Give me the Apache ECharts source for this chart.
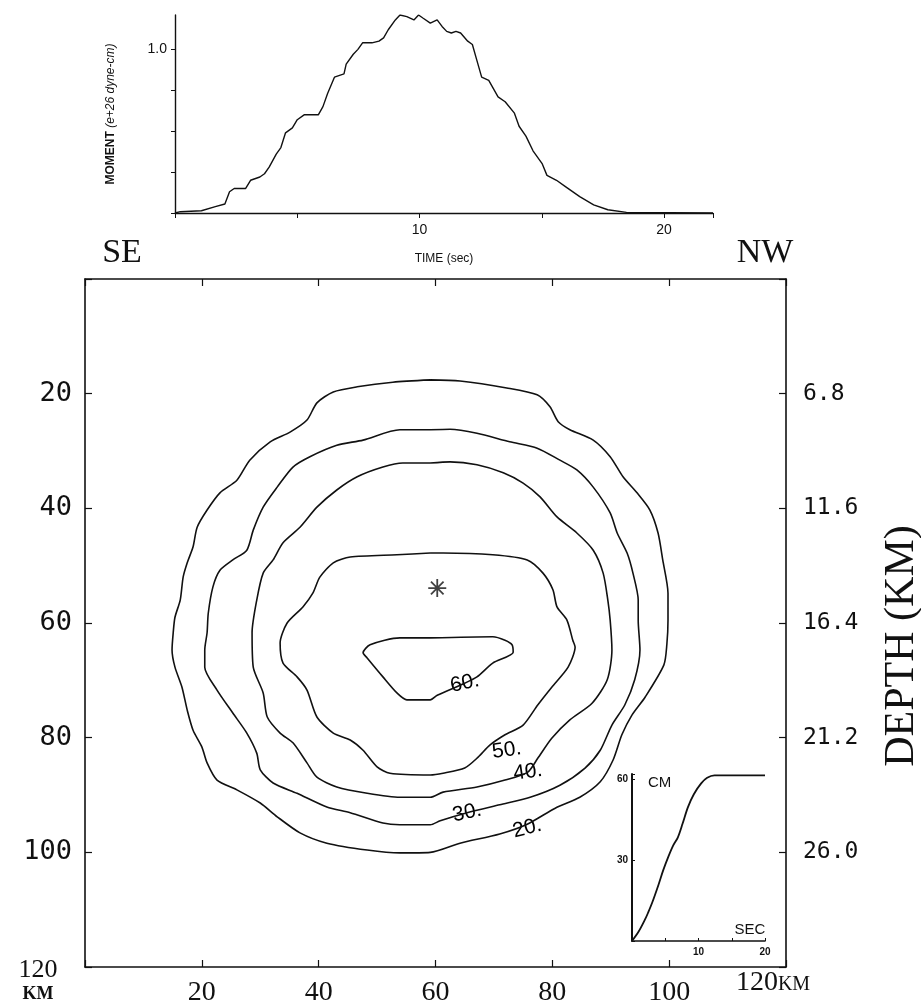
<!DOCTYPE html>
<html>
<head>
<meta charset="utf-8">
<script src="https://cdn.jsdelivr.net/npm/echarts@6/dist/echarts.min.js"></script>
<style>
  html, body { margin: 0; padding: 0; background: #fff; }
  #chart { width: 921px; height: 1007px; }
</style>
</head>
<body>
<div id="chart"></div>
<script>
// moment rate curve: [time (sec), moment (e+26 dyne-cm)]
const momentCurve = [
  [0, 0], [0.22, 0.008], [1.08, 0.014], [1.65, 0.039], [2.04, 0.055], [2.23, 0.13],
  [2.42, 0.15], [2.89, 0.15], [3.09, 0.2], [3.47, 0.22], [3.66, 0.24], [3.85, 0.28],
  [4.14, 0.36], [4.33, 0.4], [4.52, 0.49], [4.8, 0.52], [5.0, 0.57], [5.28, 0.6],
  [5.86, 0.6], [6.05, 0.65], [6.24, 0.73], [6.52, 0.83], [6.91, 0.85], [7.0, 0.91],
  [7.29, 0.97], [7.48, 1.0], [7.67, 1.04], [8.05, 1.04], [8.34, 1.05], [8.53, 1.07],
  [8.72, 1.12], [9.01, 1.18], [9.2, 1.21], [9.48, 1.2], [9.77, 1.18], [9.96, 1.21],
  [10.15, 1.19], [10.44, 1.16], [10.72, 1.18], [10.92, 1.14], [11.11, 1.11], [11.3, 1.1],
  [11.49, 1.11], [11.68, 1.1], [11.97, 1.05], [12.16, 1.03], [12.35, 0.93], [12.54, 0.83],
  [12.83, 0.81], [13.02, 0.76], [13.21, 0.71], [13.5, 0.68], [13.88, 0.61], [14.07, 0.53],
  [14.35, 0.47], [14.64, 0.38], [15.02, 0.3], [15.21, 0.23], [15.6, 0.2], [15.98, 0.16],
  [16.55, 0.1], [17.12, 0.05], [17.7, 0.02], [18.46, 0.004], [22, 0]
];

// slip contours, [along strike km, down dip km]
const contour20 = [
  [59.1, 17.6], [64.2, 17.8], [72.2, 19.0], [77.4, 20.2], [79.6, 22.3], [81.0, 24.9], [83.0, 26.3],
  [87.0, 28.1], [89.9, 31.0], [92.1, 34.5], [94.5, 37.3], [96.7, 40.3], [98.1, 44.3], [98.9, 49.0],
  [99.8, 54.8], [99.8, 59.5], [99.6, 63.8], [99.1, 67.3], [95.9, 72.9], [93.6, 76.1], [91.9, 79.5],
  [90.4, 83.9], [88.2, 87.7], [84.7, 90.4], [80.5, 92.3], [75.7, 95.1], [71.0, 96.8], [64.2, 98.4],
  [59.1, 100.0], [53.9, 100.1], [48.3, 99.6], [41.4, 98.4], [36.8, 96.6], [32.9, 93.8], [30.0, 91.4],
  [26.0, 89.1], [22.6, 87.4], [20.9, 84.4], [20.0, 81.6], [18.5, 78.7], [17.5, 75.2], [16.6, 71.2],
  [15.4, 67.7], [14.9, 64.7], [15.1, 61.7], [15.4, 59.0], [16.3, 56.0], [16.8, 52.0], [17.5, 49.5],
  [18.5, 46.7], [19.2, 43.3], [20.9, 40.3], [23.1, 37.3], [26.0, 35.1], [28.2, 31.6], [31.7, 28.4],
  [35.1, 26.7], [38.0, 24.6], [39.7, 21.6], [42.5, 19.7], [46.6, 18.8], [52.7, 18.0], [59.1, 17.6]
];
const contour30 = [
  [59.1, 26.3], [62.5, 26.2], [67.1, 26.9], [72.7, 28.4], [77.4, 29.5], [81.3, 31.6], [84.2, 33.3],
  [87.0, 36.3], [89.9, 40.8], [91.1, 44.3], [92.8, 47.8], [93.8, 51.3], [94.7, 56.0], [94.7, 59.5],
  [95.0, 64.7], [94.1, 69.9], [92.4, 74.3], [90.2, 77.8], [88.2, 82.2], [85.6, 85.3], [81.3, 88.3],
  [76.2, 90.4], [71.0, 91.7], [65.4, 93.1], [60.8, 94.5], [59.1, 95.2], [53.9, 95.2], [51.0, 94.9],
  [45.4, 93.1], [41.4, 92.1], [36.3, 89.7], [32.2, 87.9], [30.0, 85.6], [29.4, 82.7], [27.7, 79.2],
  [25.3, 75.7], [22.6, 71.7], [20.5, 67.7], [20.5, 64.7], [20.9, 61.7], [21.1, 58.3], [21.9, 53.7],
  [23.1, 50.8], [25.3, 49.0], [27.7, 47.3], [28.8, 43.8], [30.5, 39.8], [32.9, 36.3], [35.6, 32.8],
  [38.5, 31.0], [43.1, 29.0], [47.6, 28.1], [53.9, 26.3], [59.1, 26.3]
];
const contour40 = [
  [59.1, 32.1], [62.5, 31.9], [67.1, 32.4], [71.6, 33.8], [75.0, 35.6], [77.9, 38.0], [80.8, 41.5],
  [84.2, 44.3], [87.0, 47.3], [88.7, 51.3], [89.5, 56.0], [89.9, 59.5], [90.2, 64.7], [89.4, 69.9],
  [86.8, 74.0], [83.0, 76.9], [79.9, 80.1], [77.5, 83.6], [75.8, 86.0], [71.9, 87.4], [67.1, 88.6],
  [61.3, 89.5], [59.1, 90.4], [53.9, 90.4], [48.3, 89.7], [43.1, 88.6], [39.7, 86.9], [38.0, 84.4],
  [35.6, 80.9], [33.4, 79.2], [31.2, 76.4], [30.5, 72.2], [28.8, 67.7], [28.6, 61.7], [29.4, 56.0],
  [30.5, 51.3], [32.2, 49.0], [33.9, 46.0], [36.8, 43.3], [39.7, 39.8], [43.1, 36.8], [46.6, 34.5],
  [51.0, 32.8], [54.4, 32.1], [59.1, 32.1]
];
const contour50 = [
  [59.1, 47.8], [61.3, 47.8], [69.8, 48.1], [75.7, 49.0], [78.4, 51.3], [80.1, 54.2], [80.8, 57.2],
  [82.5, 59.5], [83.5, 63.0], [83.9, 64.2], [82.7, 67.7], [79.9, 71.2], [77.5, 74.3], [75.0, 77.8],
  [71.9, 79.5], [69.3, 81.3], [67.3, 83.4], [65.0, 85.3], [61.3, 86.2], [59.1, 86.5], [52.2, 86.2],
  [50.0, 85.1], [47.6, 82.2], [45.4, 80.4], [42.5, 79.2], [39.7, 76.4], [38.0, 71.7], [36.3, 69.4],
  [33.9, 67.0], [33.4, 63.5], [34.6, 60.0], [37.3, 57.2], [39.0, 54.8], [40.2, 52.0], [42.5, 49.5],
  [45.4, 48.5], [53.4, 48.1], [59.1, 47.8]
];
const contour60 = [
  [59.1, 62.6], [69.8, 62.4], [71.9, 63.0], [73.1, 63.8], [73.3, 65.1], [69.8, 67.0], [67.1, 69.4],
  [65.0, 70.5], [60.3, 72.6], [59.1, 73.4], [55.1, 73.4], [53.4, 72.2], [51.0, 69.4], [48.3, 66.1],
  [47.6, 65.2], [48.8, 63.8], [53.9, 62.6], [59.1, 62.6]
];

const contourLabelText = ['60.', '50.', '40.', '30.', '20.'];
const contourLabelAt = [[65.0, 70.5], [72.2, 82.2], [75.8, 86.0], [65.4, 93.1], [75.7, 95.8]];
const hypocenter = [60.3, 53.9];

// axis tick labels
const distTicks = [20, 40, 60, 80, 100];
const depthLabels = ['6.8', '11.6', '16.4', '21.2', '26.0'];

// slip time function at hypocenter: [sec, cm]
const slipCurve = [
  [0, 0], [1, 3.5], [2, 8.2], [2.4, 10.4], [3, 14], [4, 21], [4.7, 26.3], [5.5, 31.5],
  [6.2, 35.5], [6.9, 38.5], [7.6, 43.5], [8.4, 49.6], [9.3, 54.5], [10.4, 58.5], [11.3, 60.6],
  [12.4, 61.5], [20, 61.5]
];

const labelTilt = [12, 8, 8, 12, 14];
const INK = '#111';

const chart = echarts.init(document.getElementById('chart'));

const contourSeries = (data) => ({
  type: 'line',
  xAxisIndex: 0,
  yAxisIndex: 0,
  data,
  symbol: 'none',
  smooth: 0.25,
  silent: true,
  lineStyle: { color: INK, width: 1.6 },
});

const starPath =
  'path://M-1,-10L1,-10L1,10L-1,10Z M-10,-1L10,-1L10,1L-10,1Z ' +
  'M-6.3,-7.7L7.7,6.3L6.3,7.7L-7.7,-6.3Z M-7.7,6.3L6.3,-7.7L7.7,-6.3L-6.3,7.7Z';

const serif = '"Liberation Serif", "DejaVu Serif", serif';
const mono = '"DejaVu Sans Mono", "Liberation Mono", monospace';
const sans = '"Liberation Sans", Arial, sans-serif';

const textEl = (text, x, y, font, extra) => ({
  type: 'text',
  x,
  y,
  silent: true,
  ...extra,
  style: { text, fill: INK, font, align: 'center', verticalAlign: 'middle', ...(extra && extra.style) },
});

const boxLine = { show: true, onZero: false, lineStyle: { color: INK, width: 1.6 } };
const boxTick = { show: true, inside: true, length: 7, lineStyle: { color: INK, width: 1.2 } };

chart.setOption({
  animation: false,
  backgroundColor: '#fff',
  grid: [
    { left: 85, top: 279, width: 701, height: 688 },
    { left: 175, top: 15, width: 538, height: 198 },
    { left: 632, top: 774, width: 133, height: 167 },
  ],
  xAxis: [
    {
      gridIndex: 0, type: 'value', min: 0, max: 120, interval: 20, position: 'bottom',
      axisLine: boxLine,
      axisTick: boxTick,
      axisLabel: {
        color: INK, fontFamily: serif, fontSize: 28, margin: 12,
        formatter: (v) => (distTicks.includes(v) ? String(v) : ''),
      },
      splitLine: { show: false },
    },
    {
      gridIndex: 0, type: 'value', min: 0, max: 120, interval: 20, position: 'top',
      axisLine: boxLine,
      axisTick: boxTick,
      axisLabel: { show: false },
      splitLine: { show: false },
    },
    {
      gridIndex: 1, type: 'value', min: 0, max: 22, interval: 5,
      axisLine: { show: true, onZero: false, lineStyle: { color: INK, width: 1.4 } },
      axisTick: { show: true, length: 5, lineStyle: { color: INK } },
      axisLabel: {
        color: INK, fontFamily: sans, fontSize: 14, margin: 10,
        formatter: (v) => (v === 10 || v === 20 ? String(v) : ''),
      },
      splitLine: { show: false },
      name: 'TIME (sec)',
      nameLocation: 'middle',
      nameGap: 40,
      nameTextStyle: { color: INK, fontFamily: sans, fontSize: 12 },
    },
    {
      gridIndex: 2, type: 'value', min: 0, max: 20, interval: 5,
      axisLine: { show: true, onZero: false, lineStyle: { color: INK, width: 1.6 } },
      axisTick: { show: true, inside: true, length: 3, lineStyle: { color: INK } },
      axisLabel: {
        color: INK, fontFamily: sans, fontSize: 10, fontWeight: 'bold', margin: 6,
        formatter: (v) => (v === 10 || v === 20 ? String(v) : ''),
      },
      splitLine: { show: false },
    },
  ],
  yAxis: [
    {
      gridIndex: 0, type: 'value', min: 0, max: 120, interval: 20, inverse: true, position: 'left',
      axisLine: boxLine,
      axisTick: boxTick,
      axisLabel: {
        color: INK, fontFamily: mono, fontSize: 27, margin: 13,
        formatter: (v) => (distTicks.includes(v) ? String(v) : ''),
      },
      splitLine: { show: false },
    },
    {
      gridIndex: 0, type: 'value', min: 0, max: 120, interval: 20, inverse: true, position: 'right',
      axisLine: boxLine,
      axisTick: boxTick,
      axisLabel: {
        color: INK, fontFamily: mono, fontSize: 23, margin: 17,
        formatter: (v) => {
          const i = distTicks.indexOf(v);
          return i >= 0 ? depthLabels[i] : '';
        },
      },
      splitLine: { show: false },
    },
    {
      gridIndex: 1, type: 'value', min: 0, max: 1.21, interval: 0.25,
      axisLine: { show: true, onZero: false, lineStyle: { color: INK, width: 1.4 } },
      axisTick: { show: true, length: 4, lineStyle: { color: INK } },
      axisLabel: {
        color: INK, fontFamily: sans, fontSize: 14, margin: 8, showMaxLabel: false,
        formatter: (v) => (v === 1 ? '1.0' : ''),
      },
      splitLine: { show: false },
      name: '{b|MOMENT} {i|(e+26 dyne-cm)}',
      nameLocation: 'middle',
      nameGap: 58,
      nameRotate: 90,
      nameTextStyle: {
        color: INK,
        rich: {
          b: { fontFamily: sans, fontSize: 12, fontWeight: 'bold', color: INK },
          i: { fontFamily: sans, fontSize: 12, fontStyle: 'italic', color: INK },
        },
      },
    },
    {
      gridIndex: 2, type: 'value', min: 0, max: 62, interval: 30,
      axisLine: { show: true, onZero: false, lineStyle: { color: INK, width: 2 } },
      axisTick: { show: true, inside: true, length: 3, lineStyle: { color: INK } },
      axisLabel: {
        color: INK, fontFamily: sans, fontSize: 10, fontWeight: 'bold', margin: 4,
        formatter: (v) => (v === 30 || v === 60 ? String(v) : ''),
      },
      splitLine: { show: false },
    },
  ],
  graphic: [
    textEl('SE', 122, 253, `34px ${serif}`),
    textEl('NW', 765, 253, `34px ${serif}`),
    textEl('DEPTH (KM)', 902, 646, `42px ${serif}`, { rotation: Math.PI / 2 }),
    textEl('120', 38, 970, `26px ${serif}`),
    textEl('KM', 38, 994, `bold 18px ${serif}`),
    textEl('120', 757, 983, `28px ${serif}`),
    textEl('KM', 794, 985, `20px ${serif}`),
    textEl('CM', 648, 783, `15px ${sans}`, { style: { align: 'left' } }),
    textEl('SEC', 750, 930, `15px ${sans}`),
  ],
  series: [
    contourSeries(contour20),
    contourSeries(contour30),
    contourSeries(contour40),
    contourSeries(contour50),
    contourSeries(contour60),
    {
      type: 'scatter',
      xAxisIndex: 0,
      yAxisIndex: 0,
      symbolSize: 0,
      silent: true,
      data: contourLabelAt.map((p, i) => ({
        value: p,
        name: contourLabelText[i],
        label: { rotate: labelTilt[i] },
      })),
      label: {
        show: true,
        position: 'inside',
        formatter: (p) => p.name,
        color: '#000',
        opacity: 1,
        fontFamily: sans,
        fontSize: 21,
      },
    },
    {
      type: 'scatter',
      xAxisIndex: 0,
      yAxisIndex: 0,
      symbol: starPath,
      symbolSize: 18,
      silent: true,
      itemStyle: { color: INK },
      data: [hypocenter],
    },
    {
      type: 'line',
      xAxisIndex: 2,
      yAxisIndex: 2,
      data: momentCurve,
      symbol: 'none',
      silent: true,
      lineStyle: { color: INK, width: 1.4 },
    },
    {
      type: 'line',
      xAxisIndex: 3,
      yAxisIndex: 3,
      data: slipCurve,
      symbol: 'none',
      smooth: 0.3,
      silent: true,
      lineStyle: { color: INK, width: 1.8 },
    },
  ],
});
</script>
</body>
</html>
